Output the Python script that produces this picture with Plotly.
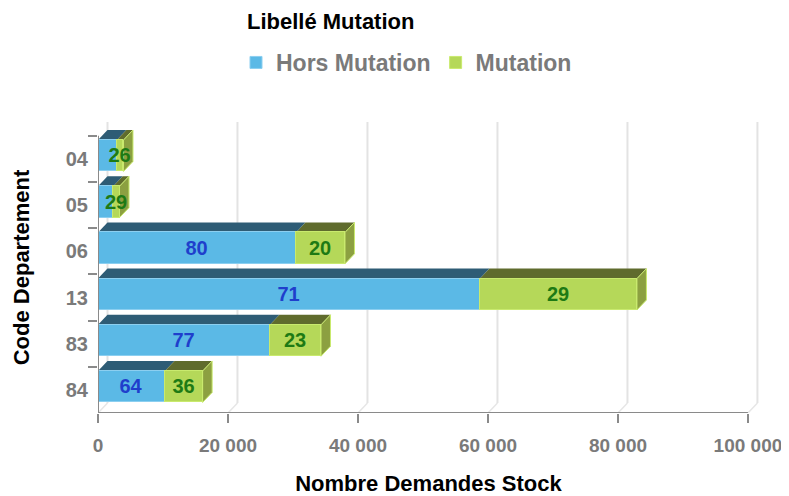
import plotly.graph_objects as go

# data
departements = ['04', '05', '06', '13', '83', '84']
hors_mutation = [2900, 2350, 30460, 58770, 26460, 10300]
mutation = [1020, 960, 7540, 24150, 7850, 5800]
hors_labels = ['', '', '80', '71', '77', '64']
mutation_labels = ['26', '29', '20', '29', '23', '36']
x_ticks = [0, 20000, 40000, 60000, 80000, 100000]

FONT = 'Liberation Sans, Arial, sans-serif'
BLUE, BLUE_TOP = '#5BB9E6', '#2E5C75'
GREEN, GREEN_TOP, GREEN_SIDE = '#B5D859', '#5F6B2D', '#8CA041'
GRAY = '#7a7a7a'

# 3D depth in data units
DX = 1460
DY = 0.216
BAR_OFF, BAR_W = -0.41, 0.68
Y_TOP = -0.8
X_MAX = 101700

# page has an 8px body margin, so the figure is drawn 8px smaller
W, H = 781, 488
ML, MR, MT, MB = 90, 30, 114, 83
PW, PH = W - ML - MR, H - MT - MB

fig = go.Figure()

fig.add_trace(go.Bar(
    y=departements, x=hors_mutation, orientation='h', name='Hors Mutation',
    marker=dict(color=BLUE, line=dict(color='#8CCFF0', width=1)),
    offset=BAR_OFF, width=BAR_W,
    text=hors_labels, textposition='inside', insidetextanchor='middle',
    constraintext='none', textangle=0,
    textfont=dict(family=FONT, size=20, color='#1F3FCC', weight='bold'),
))
fig.add_trace(go.Bar(
    y=departements, x=mutation, orientation='h', name='Mutation',
    marker=dict(color=GREEN, line=dict(color='#C9EA6E', width=1)),
    offset=BAR_OFF, width=BAR_W,
    text=mutation_labels, textposition='inside', insidetextanchor='middle',
    constraintext='none', textangle=0,
    textfont=dict(family=FONT, size=20, color='#1E7A14', weight='bold'),
))

shapes = []

# back wall grid lines + floor diagonals
y_bot = len(departements) - 0.5
for v in x_ticks:
    shapes.append(dict(type='line', xref='x', yref='y', layer='below',
                       x0=v, y0=y_bot, x1=v + DX, y1=y_bot - DY,
                       line=dict(color='#e6e6e6', width=1.5)))
    shapes.append(dict(type='line', xref='x', yref='y', layer='below',
                       x0=v + DX, y0=y_bot - DY, x1=v + DX, y1=Y_TOP,
                       line=dict(color='#e3e3e3', width=2)))

# top and side faces of the bars
for i, (h, m) in enumerate(zip(hors_mutation, mutation)):
    yt = i + BAR_OFF
    yb = yt + BAR_W
    tot = h + m
    shapes.append(dict(type='path', xref='x', yref='y', layer='between',
                       path=f'M 0,{yt} L {h},{yt} L {h + DX},{yt - DY} L {DX},{yt - DY} Z',
                       fillcolor=BLUE_TOP, line=dict(width=0)))
    shapes.append(dict(type='path', xref='x', yref='y', layer='between',
                       path=f'M {h},{yt} L {tot},{yt} L {tot + DX},{yt - DY} L {h + DX},{yt - DY} Z',
                       fillcolor=GREEN_TOP, line=dict(width=0)))
    shapes.append(dict(type='path', xref='x', yref='y', layer='between',
                       path=f'M {tot},{yt} L {tot + DX},{yt - DY} L {tot + DX},{yb - DY} L {tot},{yb} Z',
                       fillcolor=GREEN_SIDE, line=dict(color='#C9EA6E', width=1)))

# front axis lines
shapes.append(dict(type='line', xref='x', yref='y', layer='above',
                   x0=0, y0=y_bot, x1=x_ticks[-1], y1=y_bot,
                   line=dict(color='#8a8a8a', width=2)))
shapes.append(dict(type='line', xref='x', yref='y', layer='above',
                   x0=0, y0=y_bot, x1=0, y1=-0.5,
                   line=dict(color='#8a8a8a', width=2)))

fig.update_layout(
    width=W, height=H,
    margin=dict(l=ML, r=MR, t=MT, b=MB),
    paper_bgcolor='white', plot_bgcolor='white',
    barmode='stack', bargap=0,
    separators=', ',
    font=dict(family=FONT, color=GRAY),
    shapes=shapes,
    showlegend=True,
    legend=dict(
        orientation='h', xref='container', yref='container',
        x=228 / W, y=1 - 33 / H, xanchor='left', yanchor='top',
        traceorder='normal',
        font=dict(family=FONT, size=23, color=GRAY, weight='bold'),
        bgcolor='rgba(0,0,0,0)',
    ),
    annotations=[dict(
        text='Libellé Mutation', xref='paper', yref='paper',
        x=(237 - ML) / PW, y=1 + (MT - 14) / PH,
        xanchor='left', yanchor='middle', showarrow=False,
        font=dict(family=FONT, size=22, color='black', weight='bold'),
    )],
    xaxis=dict(
        range=[0, X_MAX], tickvals=x_ticks, tickformat=',d',
        showgrid=False, zeroline=False, showline=False, automargin=False,
        ticks='outside', ticklen=9, tickwidth=2, tickcolor='#8a8a8a',
        ticklabelstandoff=6,
        tickfont=dict(family=FONT, size=19, color=GRAY, weight='bold'),
        title=dict(text='Nombre Demandes Stock', standoff=26,
                   font=dict(family=FONT, size=22, color='black', weight='bold')),
    ),
    yaxis=dict(
        type='category', categoryorder='array', categoryarray=departements,
        range=[y_bot, Y_TOP], tickson='boundaries',
        showgrid=False, zeroline=False, showline=False, automargin=False,
        ticks='outside', ticklen=9, tickwidth=2, tickcolor='#8a8a8a',
        ticklabelstandoff=9,
        tickfont=dict(family=FONT, size=20, color=GRAY, weight='bold'),
        title=dict(text='Code Departement', standoff=30,
                   font=dict(family=FONT, size=22, color='black', weight='bold')),
    ),
)

fig.write_html('out.html')
